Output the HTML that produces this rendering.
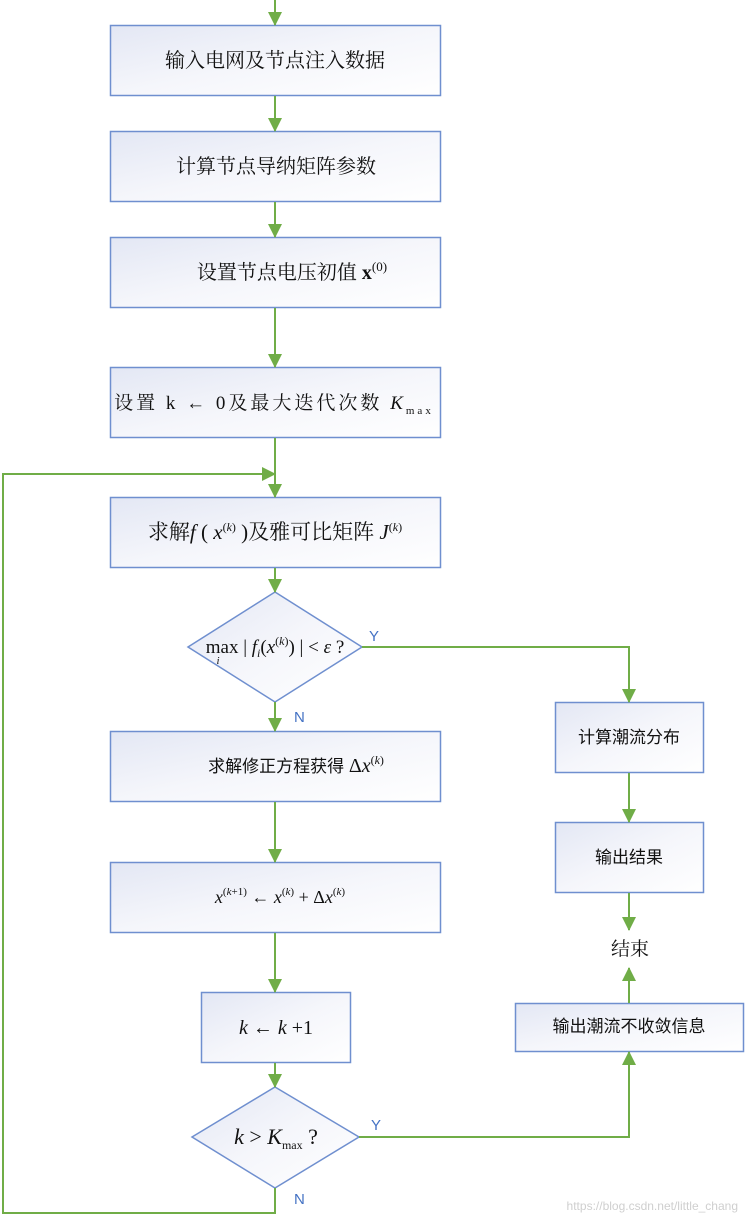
<!DOCTYPE html>
<html><head><meta charset="utf-8"><style>
html,body{margin:0;padding:0;background:#fff;}
svg{display:block}
.s{font-family:"Liberation Serif","Noto Serif CJK SC",serif;fill:#111}
.a{font-family:"Liberation Sans","Noto Sans CJK SC",sans-serif;fill:#111}
.i{font-style:italic}
</style></head><body>
<svg width="745" height="1222" viewBox="0 0 745 1222" xmlns="http://www.w3.org/2000/svg">
<defs>
<linearGradient id="g" x1="0" y1="0" x2="1" y2="1">
<stop offset="0" stop-color="#e3e7f4"/><stop offset="0.5" stop-color="#f5f6fb"/><stop offset="1" stop-color="#ffffff"/>
</linearGradient>
<marker id="ar" markerWidth="14" markerHeight="14" refX="13" refY="7" orient="auto" markerUnits="userSpaceOnUse">
<path d="M0,0 L14,7 L0,14 z" fill="#70ad47"/>
</marker>
</defs>
<g fill="url(#g)" stroke="#6f8fcf" stroke-width="1.5">
<rect x="110.5" y="25.5" width="330" height="70"/>
<rect x="110.5" y="131.5" width="330" height="70"/>
<rect x="110.5" y="237.5" width="330" height="70"/>
<rect x="110.5" y="367.5" width="330" height="70"/>
<rect x="110.5" y="497.5" width="330" height="70"/>
<polygon points="275,592 362,647 275,702 188,647"/>
<rect x="110.5" y="731.5" width="330" height="70"/>
<rect x="110.5" y="862.5" width="330" height="70"/>
<rect x="201.5" y="992.5" width="149" height="70"/>
<polygon points="275,1087 359,1137 275,1188 192,1137"/>
<rect x="555.5" y="702.5" width="148" height="70"/>
<rect x="555.5" y="822.5" width="148" height="70"/>
<rect x="515.5" y="1003.5" width="228" height="48"/>
</g>
<g stroke="#70ad47" stroke-width="2" fill="none" marker-end="url(#ar)">
<line x1="275" y1="0" x2="275" y2="25"/>
<line x1="275" y1="96" x2="275" y2="131"/>
<line x1="275" y1="202" x2="275" y2="237"/>
<line x1="275" y1="308" x2="275" y2="367"/>
<line x1="275" y1="438" x2="275" y2="497"/>
<line x1="275" y1="568" x2="275" y2="592"/>
<line x1="275" y1="702" x2="275" y2="731"/>
<line x1="275" y1="802" x2="275" y2="862"/>
<line x1="275" y1="933" x2="275" y2="992"/>
<line x1="275" y1="1063" x2="275" y2="1087"/>
<polyline points="362,647 629,647 629,702"/>
<line x1="629" y1="773" x2="629" y2="822"/>
<line x1="629" y1="893" x2="629" y2="930"/>
<line x1="629" y1="1003" x2="629" y2="968"/>
<polyline points="359,1137 629,1137 629,1052"/>
<polyline points="275,1188 275,1213 3,1213 3,474 275,474"/>
</g>
<g class="s" font-size="20" text-anchor="middle">
<text x="275" y="67">输入电网及节点注入数据</text>
<text x="276" y="173">计算节点导纳矩阵参数</text>
<text x="292" y="279">设置节点电压初值 <tspan font-weight="bold">x</tspan><tspan font-size="13" dy="-8">(0)</tspan></text>
<text x="274" y="409" font-size="19" letter-spacing="3">设置 k ← 0及最大迭代次数 <tspan class="i">K</tspan><tspan font-size="11" dy="5">max</tspan></text>
<text x="275" y="539" font-size="21">求解<tspan class="i">f</tspan> ( <tspan class="i">x</tspan><tspan font-size="12" dy="-8">(<tspan class="i">k</tspan>)</tspan><tspan dy="8"> )及雅可比矩阵 </tspan><tspan class="i">J</tspan><tspan font-size="12" dy="-8">(<tspan class="i">k</tspan>)</tspan></text>
<text x="275" y="653" font-size="19">max | <tspan class="i">f</tspan><tspan font-size="12" class="i" dy="4">i</tspan><tspan dy="-4">(</tspan><tspan class="i">x</tspan><tspan font-size="12" dy="-8">(<tspan class="i">k</tspan>)</tspan><tspan dy="8">) | &lt; </tspan><tspan class="i">ε</tspan> ?</text>
<text x="218" y="664" font-size="11" class="i">i</text>
<text x="280" y="903" font-size="18"><tspan class="i">x</tspan><tspan font-size="11" dy="-8">(<tspan class="i">k</tspan>+1)</tspan><tspan dy="8"> ← </tspan><tspan class="i">x</tspan><tspan font-size="11" dy="-8">(<tspan class="i">k</tspan>)</tspan><tspan dy="8"> + Δ</tspan><tspan class="i">x</tspan><tspan font-size="11" dy="-8">(<tspan class="i">k</tspan>)</tspan></text>
<text x="276" y="1034"><tspan class="i">k</tspan> ← <tspan class="i">k</tspan> +1</text>
<text x="276" y="1144" font-size="22"><tspan class="i">k</tspan> &gt; <tspan class="i">K</tspan><tspan font-size="12" dy="5">max</tspan><tspan dy="-5"> ?</tspan></text>
<text x="630" y="955" font-size="19">结束</text>
</g>
<g class="a" font-size="17" text-anchor="middle">
<text x="296" y="772">求解修正方程获得 <tspan class="s" font-size="20">Δ<tspan class="i">x</tspan><tspan font-size="12" dy="-8">(<tspan class="i">k</tspan>)</tspan></tspan></text>
<text x="629" y="743">计算潮流分布</text>
<text x="629" y="863">输出结果</text>
<text x="629" y="1032">输出潮流不收敛信息</text>
</g>
<g class="a" font-size="15">
<text x="369" y="641" fill="#4472c4">Y</text>
<text x="294" y="722" fill="#4472c4">N</text>
<text x="371" y="1130" fill="#4472c4">Y</text>
<text x="294" y="1204" fill="#4472c4">N</text>
</g>
<text x="738" y="1210" text-anchor="end" font-family="Liberation Sans,sans-serif" font-size="12" fill="#cfcfcf">https://blog.csdn.net/little_chang</text>
</svg>
</body></html>
